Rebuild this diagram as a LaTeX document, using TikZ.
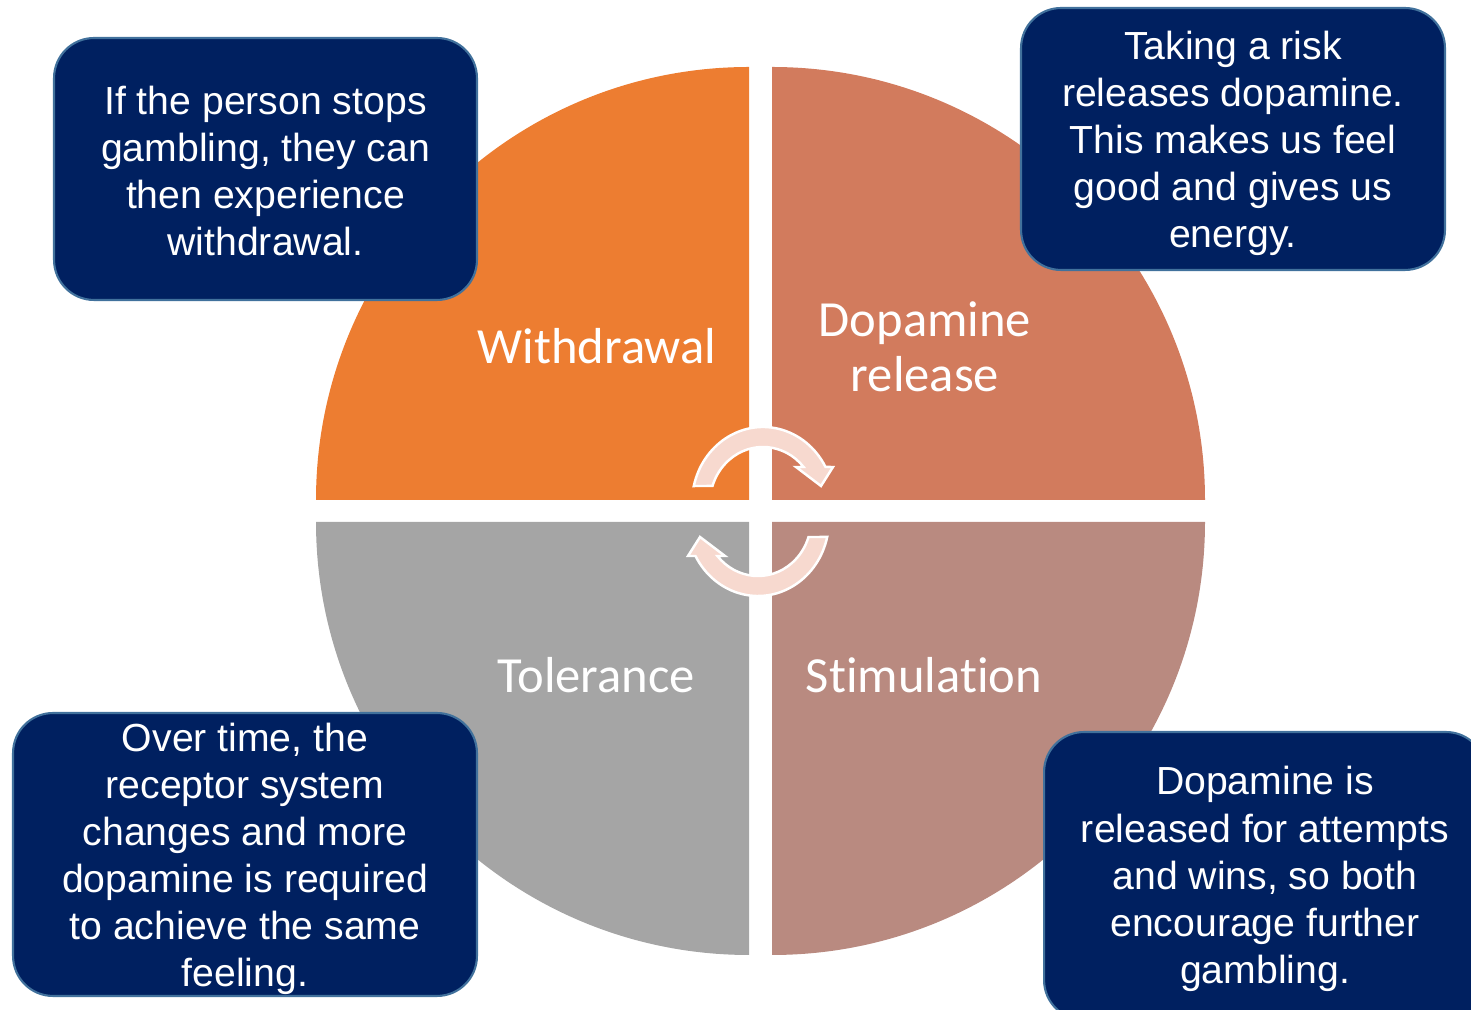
\documentclass[tikz,border=0pt]{standalone}
\usepackage{fontspec}
\setmainfont{Liberation Sans}
\newfontfamily\quadfont[Ligatures=NoCommon]{Carlito}
\usepackage{tikz}
\usetikzlibrary{arrows.meta,
calc,
shapes.geometric
}
\definecolor{withdrawalc}{HTML}{ED7D31}
\definecolor{dopaminec}{HTML}{D27B5D}
\definecolor{stimulationc}{HTML}{B98A80}
\definecolor{tolerancec}{HTML}{A5A5A5}
\definecolor{boxnavy}{HTML}{002060}
\definecolor{boxedge}{HTML}{41719C}
\definecolor{cyclefill}{HTML}{F7D9CF}
\tikzset{
    infobox/.style={fill=boxnavy, draw=boxedge, line width=1.2pt, rounded corners=0.8cm, inner sep=0pt},
    boxtext/.style={text=white, align=center, inner sep=0pt,
        font=\fontsize{22.3}{26.8}\selectfont},
    quadlabel/.style={text=white, align=center, inner sep=0pt,
        font=\quadfont\fontsize{28.8}{31.2}\selectfont},
    cyclearrow/.style={fill=cyclefill, draw=white, line width=1.4pt, line join=miter}
}

\begin{document}
\begin{tikzpicture}[x=0.02cm, y=0.02cm]
        \clip (0, 0) rectangle (1471, 1010);
        \fill[withdrawalc] (749, 510) -- (316, 510) arc[start angle=180, end angle=90, radius=433] -- cycle;
        \fill[dopaminec] (772, 510) -- (772, 943) arc[start angle=90, end angle=0, radius=433] -- cycle;
        \fill[stimulationc] (772, 488) -- (1205, 488) arc[start angle=0, end angle=-90, radius=433] -- cycle;
        \fill[tolerancec] (749, 488) -- (749, 55) arc[start angle=270, end angle=180, radius=433] -- cycle;
        \node[quadlabel] (withdrawal) at (597, 664) {Withdrawal};
        \node[quadlabel] (dopamine) at (925, 663) {Dopamine\\release};
        \node[quadlabel] (tolerance) at (596, 335) {Tolerance};
        \node[quadlabel] (stimulation) at (924, 335) {Stimulation};
        \foreach \r in {0, 180}
            \filldraw[cyclearrow, rotate around={\r:(760.5, 498.5)}]
                (763, 507) ++(167.1:71 and 76) arc[start angle=167.1, end angle=28.3, x radius=71, y radius=76]
                -- (833, 543) -- (821, 524) -- (796, 543) -- (803.6, 543)
                arc[start angle=40, end angle=162.3, x radius=53, y radius=56] -- cycle;
        \node[infobox, minimum width=8.46cm, minimum height=5.24cm] (stopbox) at (265.5, 841) {};
        \node[boxtext] (stoptext) at ([yshift=-0.04cm]stopbox.center)
            {If the person stops\\gambling, they can\\then experience\\withdrawal.};
        \node[infobox, minimum width=8.48cm, minimum height=5.24cm] (riskbox) at (1233, 871) {};
        \node[boxtext] (risktext) at ([yshift=-0.09cm]riskbox.center)
            {Taking a risk\\releases dopamine.\\This makes us feel\\good and gives us\\energy.};
        \node[infobox, minimum width=9.28cm, minimum height=5.66cm] (receptorbox) at (245, 155.5) {};
        \node[boxtext] (receptortext) at ([yshift=-0.09cm]receptorbox.center)
            {Over time, the\\receptor system\\changes and more\\dopamine is required\\to achieve the same\\feeling.};
        \node[infobox, minimum width=8.84cm, minimum height=5.76cm] (winsbox) at (1265, 134) {};
        \node[boxtext] (winstext) at ([yshift=-0.06cm]winsbox.center)
            {Dopamine is\\released for attempts\\and wins, so both\\encourage further\\gambling.};
    \end{tikzpicture}
\end{document}
